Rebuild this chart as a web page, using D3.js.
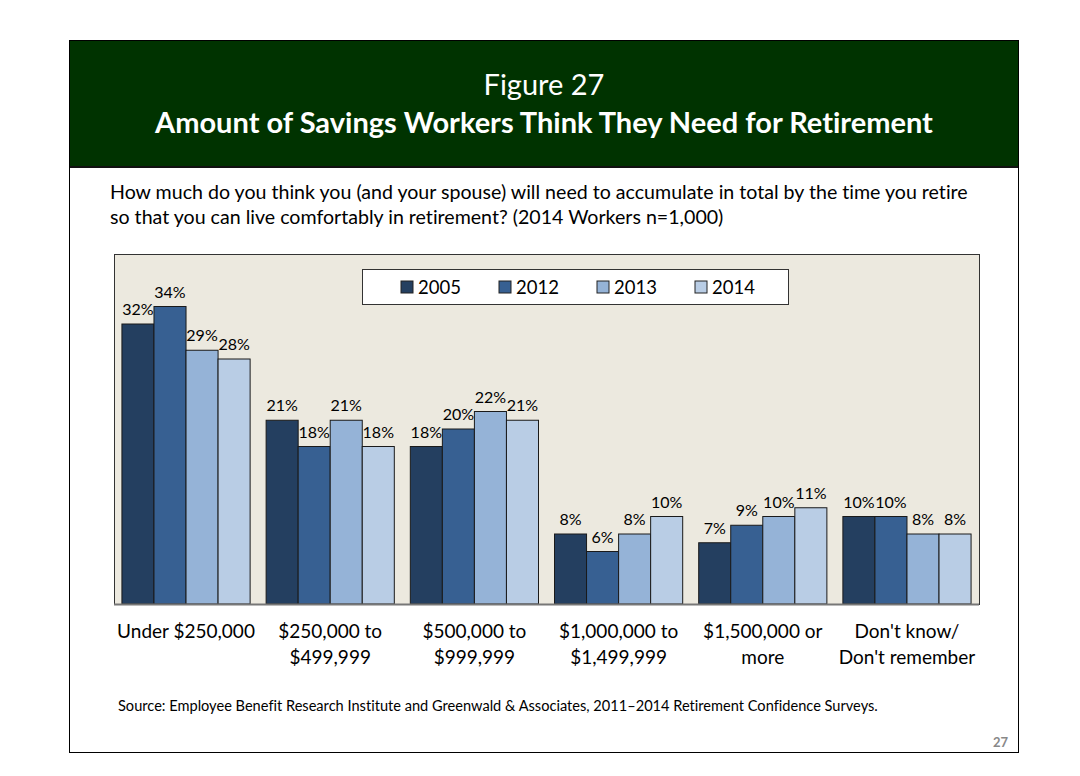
<!DOCTYPE html>
<html>
<head>
<meta charset="utf-8">
<script src="https://cdn.jsdelivr.net/npm/d3@7"></script>
<style>
  body { margin: 0; background: #fff; }
  svg text { font-family: Lato, "Open Sans", sans-serif; font-variant-ligatures: none; }
</style>
</head>
<body>
<svg id="chart"></svg>
<script>
// data
var categories = [
    ['Under $250,000'],
    ['$250,000 to', '$499,999'],
    ['$500,000 to', '$999,999'],
    ['$1,000,000 to', '$1,499,999'],
    ['$1,500,000 or', 'more'],
    ["Don't know/", "Don't remember"]
];
var years = ['2005', '2012', '2013', '2014'];
var values2005 = [32, 21, 18, 8, 7, 10];
var values2012 = [34, 18, 20, 6, 9, 10];
var values2013 = [29, 21, 22, 8, 10, 8];
var values2014 = [28, 18, 21, 10, 11, 8];
var colors = ['#243f60', '#376092', '#95b3d7', '#b9cde5'];

var series = [values2005, values2012, values2013, values2014];

var svgWidth = 1080,
    svgHeight = 776;

var svg = d3.select('#chart')
    .attr('width', svgWidth)
    .attr('height', svgHeight);

// page frame
svg.append('rect')
    .attr('x', 69.5).attr('y', 40.5)
    .attr('width', 949).attr('height', 712)
    .attr('fill', '#fff')
    .attr('stroke', '#000');

// green header
svg.append('rect')
    .attr('x', 70).attr('y', 41)
    .attr('width', 948).attr('height', 125)
    .attr('fill', '#003300');
svg.append('line')
    .attr('x1', 70).attr('x2', 1018)
    .attr('y1', 167).attr('y2', 167)
    .attr('stroke', '#111').attr('stroke-width', 2);

svg.append('text')
    .attr('x', 544).attr('y', 95)
    .attr('text-anchor', 'middle')
    .attr('fill', '#fff')
    .style('font-size', '29px')
    .text('Figure 27');
svg.append('text')
    .attr('x', 544).attr('y', 133)
    .attr('text-anchor', 'middle')
    .attr('fill', '#fff')
    .style('font-size', '29px')
    .style('font-weight', 'bold')
    .text('Amount of Savings Workers Think They Need for Retirement');

// question
var question = [
    'How much do you think you (and your spouse) will need to accumulate in total by the time you retire',
    'so that you can live comfortably in retirement? (2014 Workers n=1,000)'
];
svg.selectAll('.question')
    .data(question)
    .enter().append('text')
    .attr('class', 'question')
    .attr('x', 110)
    .attr('y', function(d, i) { return 199 + i * 25; })
    .style('font-size', '19.6px')
    .attr('fill', '#000')
    .text(function(d) { return d; });

// plot area
var plot = {left: 114, top: 254, right: 979, bottom: 604};

svg.append('rect')
    .attr('x', plot.left + 0.5).attr('y', plot.top + 0.5)
    .attr('width', plot.right - plot.left).attr('height', plot.bottom - plot.top)
    .attr('fill', '#ece9df')
    .attr('stroke', '#333');

var x0 = d3.scaleBand()
    .domain(d3.range(categories.length))
    .range([plot.left, plot.right])
    .paddingInner(0.111)
    .paddingOuter(0.055);

var x1 = d3.scaleBand()
    .domain(years)
    .range([0, x0.bandwidth()]);

var y = d3.scaleLinear()
    .domain([0, 40])
    .range([plot.bottom, plot.bottom - 350]);

var groups = svg.selectAll('.group')
    .data(categories)
    .enter().append('g')
    .attr('class', 'group')
    .attr('transform', function(d, i) { return 'translate(' + x0(i) + ',0)'; });

groups.selectAll('rect')
    .data(function(d, i) {
        return years.map(function(yr, j) { return {year: yr, value: series[j][i], j: j}; });
    })
    .enter().append('rect')
    .attr('x', function(d) { return x1(d.year); })
    .attr('y', function(d) { return y(d.value); })
    .attr('width', x1.bandwidth())
    .attr('height', function(d) { return y(0) - y(d.value); })
    .attr('fill', function(d) { return colors[d.j]; })
    .attr('stroke', '#1a1a1a')
    .attr('stroke-width', 1);

groups.selectAll('.lbl')
    .data(function(d, i) {
        return years.map(function(yr, j) { return {year: yr, value: series[j][i]}; });
    })
    .enter().append('text')
    .attr('class', 'lbl')
    .attr('x', function(d) { return x1(d.year) + x1.bandwidth() / 2; })
    .attr('y', function(d) { return y(d.value) - 9; })
    .attr('text-anchor', 'middle')
    .style('font-size', '16px')
    .attr('fill', '#000')
    .text(function(d) { return d.value + '%'; });

// baseline
svg.append('line')
    .attr('x1', plot.left).attr('x2', plot.right)
    .attr('y1', plot.bottom + 0.5).attr('y2', plot.bottom + 0.5)
    .attr('stroke', '#777').attr('stroke-width', 2);

// category labels
var catLabels = svg.selectAll('.cat')
    .data(categories)
    .enter().append('text')
    .attr('class', 'cat')
    .attr('text-anchor', 'middle')
    .style('font-size', '19px')
    .attr('fill', '#000');

catLabels.selectAll('tspan')
    .data(function(d, i) { return d.map(function(s) { return {s: s, i: i}; }); })
    .enter().append('tspan')
    .attr('x', function(d) { return x0(d.i) + x0.bandwidth() / 2; })
    .attr('y', function(d, k) { return 638 + k * 26; })
    .text(function(d) { return d.s; });

// legend
var legend = svg.append('g');
legend.append('rect')
    .attr('x', 362.5).attr('y', 269.5)
    .attr('width', 426).attr('height', 35)
    .attr('fill', '#fff')
    .attr('stroke', '#333');

var legendX = d3.scalePoint()
    .domain(years)
    .range([401, 695]);

var items = legend.selectAll('.item')
    .data(years)
    .enter().append('g')
    .attr('class', 'item')
    .attr('transform', function(d) { return 'translate(' + legendX(d) + ',287)'; });

items.append('rect')
    .attr('x', 0).attr('y', -6)
    .attr('width', 12).attr('height', 12)
    .attr('fill', function(d, i) { return colors[i]; })
    .attr('stroke', '#222');

items.append('text')
    .attr('x', 17).attr('y', 7)
    .style('font-size', '18.5px')
    .attr('fill', '#000')
    .text(function(d) { return d; });

// source
svg.append('text')
    .attr('x', 118).attr('y', 711)
    .style('font-size', '14.6px')
    .attr('fill', '#000')
    .text('Source:  Employee Benefit Research Institute and Greenwald & Associates, 2011\u20132014 Retirement Confidence Surveys.');

// page number
svg.append('text')
    .attr('x', 1008).attr('y', 747)
    .attr('text-anchor', 'end')
    .style('font-size', '13px')
    .style('font-weight', 'bold')
    .attr('fill', '#888')
    .text('27');
</script>
</body>
</html>
